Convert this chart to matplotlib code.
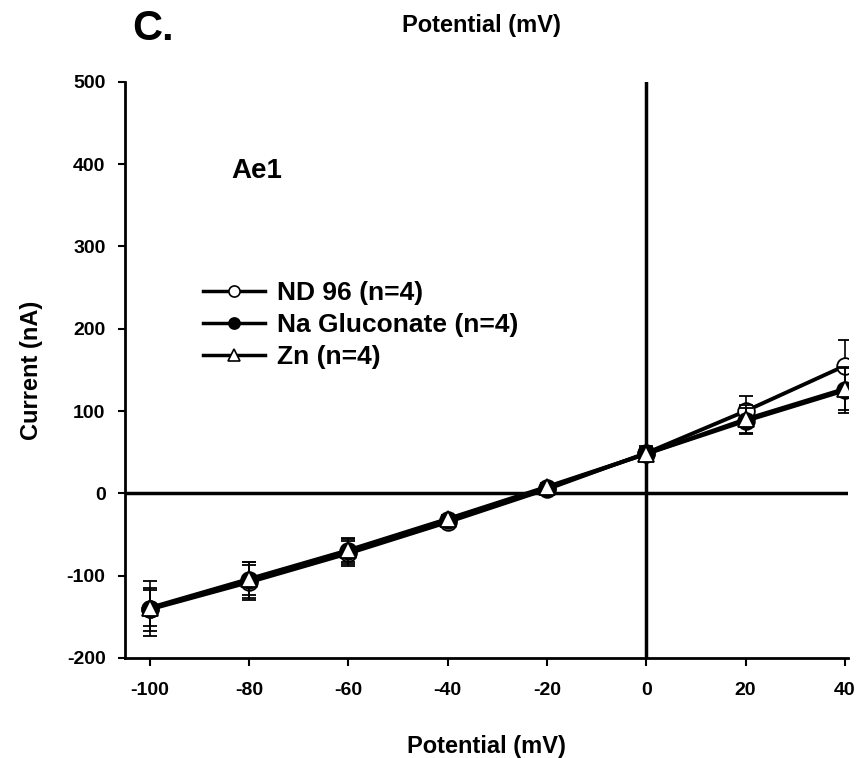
import numpy as np
import matplotlib.pyplot as plt
from matplotlib.lines import Line2D

plt.rcParams['font.family'] = ['Liberation Sans', 'DejaVu Sans']
plt.rcParams['font.weight'] = 'bold'
plt.rcParams['axes.unicode_minus'] = False

potential = [-100, -80, -60, -40, -20, 0, 20, 40]
nd96 = [-141, -108, -73, -35, 5, 49, 100, 155]
nd96_err = [26, 21, 15, 6, 4, 8, 18, 31]
na_gluc = [-140, -105, -70, -32, 7, 48, 88, 125]
na_gluc_err = [33, 22, 16, 6, 4, 7, 16, 27]
zn = [-139, -104, -69, -31, 8, 48, 90, 127]
zn_err = [22, 20, 14, 5, 4, 7, 17, 26]
labels = ['ND 96 (n=4)', 'Na Gluconate (n=4)', 'Zn (n=4)']

fig = plt.figure(figsize=(8.59, 7.58), dpi=100)
ax = fig.add_axes([0.1455, 0.132, 0.8415, 0.76])

ax.axhline(0, color='black', lw=2.5, zorder=1)
ax.axvline(0, color='black', lw=2.5, zorder=1)

kw = dict(color='black', lw=2.8, markersize=12, markeredgewidth=1.3,
          ecolor='black', elinewidth=1.2, capsize=5, capthick=1.2)
ax.errorbar(potential, nd96, yerr=nd96_err, marker='o', markerfacecolor='white', zorder=3, **kw)
ax.errorbar(potential, na_gluc, yerr=na_gluc_err, marker='o', markerfacecolor='black', zorder=4, **kw)
ax.errorbar(potential, zn, yerr=zn_err, marker='^', markerfacecolor='white', zorder=5, **kw)

ax.set_xlim(-105, 40.6)
ax.set_ylim(-200, 500)
ax.set_xticks(potential)
ax.set_yticks(range(-200, 501, 100))
for s in ['top', 'right']:
    ax.spines[s].set_visible(False)
for s in ['left', 'bottom']:
    ax.spines[s].set_linewidth(2)
ax.tick_params(axis='x', width=1.5, length=6, labelsize=14, pad=11)
ax.tick_params(axis='y', width=1.5, length=5, labelsize=14, pad=9)
for lab in ax.get_xticklabels() + ax.get_yticklabels():
    lab.set_fontweight('bold')

ax.set_xlabel('Potential (mV)', fontsize=17, fontweight='bold', labelpad=26)
ax.set_ylabel('Current (nA)', fontsize=17, fontweight='bold', labelpad=17)

fig.text(0.561, 0.966, 'Potential (mV)', fontsize=17, fontweight='bold',
         ha='center', va='center')
fig.text(0.178, 0.962, 'C.', fontsize=30, fontweight='bold', ha='center', va='center')
ax.text(-78.5, 392, 'Ae1', fontsize=20, fontweight='bold', ha='center', va='center')

handles = [
    Line2D([], [], color='black', lw=2.5, marker='o', markersize=8,
           markerfacecolor='white', markeredgewidth=1.2),
    Line2D([], [], color='black', lw=2.5, marker='o', markersize=8,
           markerfacecolor='black', markeredgewidth=1.2),
    Line2D([], [], color='black', lw=2.5, marker='^', markersize=8,
           markerfacecolor='white', markeredgewidth=1.2),
]
leg = ax.legend(handles, labels, loc='center left', bbox_to_anchor=(0.108, 0.578),
                frameon=False, fontsize=19, handlelength=2.35, handletextpad=0.45,
                labelspacing=0.3, borderaxespad=0, borderpad=0)
for t in leg.get_texts():
    t.set_fontweight('bold')

fig.savefig('out.png', dpi=100)
